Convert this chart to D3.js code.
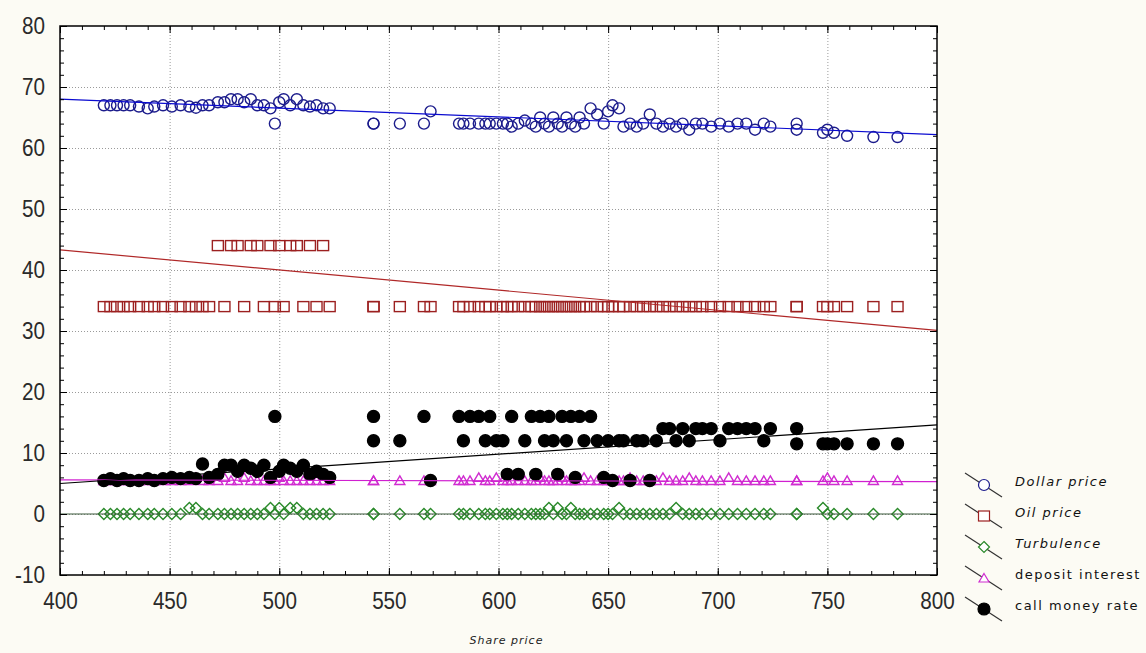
<!DOCTYPE html>
<html>
<head>
<meta charset="utf-8">
<script src="https://cdn.jsdelivr.net/npm/d3@7"></script>
<style>
  html, body { margin: 0; padding: 0; background: #fcfbf4; }
  svg { display: block; }
</style>
</head>
<body>
<div id="chart"></div>
<script>
// Observations: share price on x, five variables on y
const sharePrice = [
  420, 423, 426, 429, 432, 436, 440, 443, 447, 451, 455, 459, 462, 465, 468,
  472, 475, 478, 481, 484, 487, 490, 493, 496, 498, 500, 502, 505, 508, 511, 514, 517, 520, 523,
  543, 543, 555, 566, 569,
  582, 584, 587, 591, 594, 596, 599, 602, 604, 606, 609,
  612, 615, 617, 619, 621, 623, 625, 627, 629, 631, 633, 635, 637, 639, 642, 645,
  648, 650, 652, 655, 657, 660, 663, 666, 669, 672, 675, 678, 681, 684, 687, 690,
  693, 697, 701, 705, 709, 713, 717, 721, 724,
  736, 736, 748, 750, 753, 759, 771, 782,
];
const dollarPrice = [
  67, 67, 67, 67, 67, 66.8, 66.5, 66.8, 67, 66.8, 67, 66.8, 66.6, 67, 67,
  67.5, 67.5, 68, 68, 67.5, 68, 67, 67, 66.5, 64, 67.5, 68, 67, 68, 67, 66.8, 67, 66.5, 66.5,
  64, 64, 64, 64, 66,
  64, 64, 64, 64, 64, 64, 64, 64, 64, 63.5, 64,
  64.5, 64, 63.5, 65, 64, 63.5, 65, 64, 63.5, 65, 64, 63.5, 65, 64, 66.5, 65.5,
  64, 66, 67, 66.5, 63.5, 64, 63.5, 64, 65.5, 64, 63.5, 64, 63.5, 64, 63, 64,
  64, 63.5, 64, 63.5, 64, 64, 63, 64, 63.5,
  64, 63, 62.5, 63, 62.5, 62, 61.8, 61.8,
];
const oilPrice = [
  34, 34, 34, 34, 34, 34, 34, 34, 34, 34, 34, 34, 34, 34, 34,
  44, 34, 44, 44, 34, 44, 44, 34, 44, 34, 44, 34, 44, 44, 34, 44, 34, 44, 34,
  34, 34, 34, 34, 34,
  34, 34, 34, 34, 34, 34, 34, 34, 34, 34, 34,
  34, 34, 34, 34, 34, 34, 34, 34, 34, 34, 34, 34, 34, 34, 34, 34,
  34, 34, 34, 34, 34, 34, 34, 34, 34, 34, 34, 34, 34, 34, 34, 34,
  34, 34, 34, 34, 34, 34, 34, 34, 34,
  34, 34, 34, 34, 34, 34, 34, 34,
];
const turbulence = [
  0, 0, 0, 0, 0, 0, 0, 0, 0, 0, 0, 1, 1, 0, 0,
  0, 0, 0, 0, 0, 0, 0, 0, 1, 0, 1, 0, 1, 1, 0, 0, 0, 0, 0,
  0, 0, 0, 0, 0,
  0, 0, 0, 0, 0, 0, 0, 0, 0, 0, 0,
  0, 0, 0, 0, 0, 1, 0, 1, 0, 0, 1, 0, 0, 0, 0, 0,
  0, 0, 0, 1, 0, 0, 0, 0, 0, 0, 0, 0, 1, 0, 0, 0,
  0, 0, 0, 0, 0, 0, 0, 0, 0,
  0, 0, 1, 0, 0, 0, 0, 0,
];
const depositInterest = [
  5.5, 5.5, 5.5, 5.5, 5.5, 5.5, 5.5, 5.5, 5.5, 5.5, 5.5, 5.5, 6, 5.5, 5.5,
  5.5, 6, 5.5, 5.5, 6, 5.5, 5.5, 5.5, 5.5, 5.5, 6, 5.5, 5.5, 5.5, 5.5, 5.5, 5.5, 5.5, 5.5,
  5.5, 5.5, 5.5, 5.5, 5.5,
  5.5, 5.5, 5.5, 6, 5.5, 5.5, 6, 5.5, 5.5, 5.5, 5.5,
  5.5, 5.5, 5.5, 6, 5.5, 5.5, 5.5, 5.5, 6, 5.5, 5.5, 5.5, 5.5, 6, 5.5, 5.5,
  5.5, 5.5, 5.5, 5.5, 5.5, 6, 5.5, 5.5, 5.5, 5.5, 6, 5.5, 5.5, 5.5, 6, 5.5,
  5.5, 5.5, 5.5, 6, 5.5, 5.5, 5.5, 5.5, 5.5,
  5.5, 5.5, 5.5, 6, 5.5, 5.5, 5.5, 5.5,
];
const callMoneyRate = [
  5.5, 5.8, 5.5, 5.8, 5.5, 5.5, 5.8, 5.5, 5.8, 6, 5.8, 6, 5.8, 8.2, 6,
  6.5, 8, 8, 7, 8, 7.5, 7, 8, 6, 16, 7, 8, 7.5, 7, 8, 6.5, 7, 6.5, 6,
  16, 12, 12, 16, 5.5,
  16, 12, 16, 16, 12, 16, 12, 12, 6.5, 16, 6.5,
  12, 16, 6.5, 16, 12, 16, 12, 6.5, 16, 12, 16, 6, 16, 12, 16, 12,
  6, 12, 5.5, 12, 12, 5.5, 12, 12, 5.5, 12, 14, 14, 12, 14, 12, 14,
  14, 14, 12, 14, 14, 14, 14, 12, 14,
  14, 11.5, 11.5, 11.5, 11.5, 11.5, 11.5, 11.5,
];

// Fitted lines, value at share price 400 and 800
const fitShare = [400, 800];
const dollarFit = [68.0, 62.2];
const oilFit = [43.3, 30.1];
const turbulenceFit = [0, 0];
const depositFit = [5.6, 5.3];
const callFit = [5.0, 14.6];

const legendLabels = ["Dollar price", "Oil price", "Turbulence", "deposit interest", "call money rate"];
const xTicks = [400, 450, 500, 550, 600, 650, 700, 750, 800];
const yTicks = [-10, 0, 10, 20, 30, 40, 50, 60, 70, 80];

const width = 1146;
const height = 653;

const svg = d3
  .select("#chart")
  .append("svg")
  .attr("width", width)
  .attr("height", height);

const x = d3.scaleLinear().domain([400, 800]).range([60, 937]);
const y = d3.scaleLinear().domain([-10, 80]).range([575, 26]);

// plot area
svg
  .append("rect")
  .attr("x", x(400))
  .attr("y", y(80))
  .attr("width", x(800) - x(400))
  .attr("height", y(-10) - y(80))
  .attr("fill", "#ffffff");

// dotted grid
svg
  .append("g")
  .selectAll("line")
  .data(xTicks.slice(1, -1))
  .enter()
  .append("line")
  .attr("x1", (d) => x(d) + 0.5)
  .attr("x2", (d) => x(d) + 0.5)
  .attr("y1", y(80))
  .attr("y2", y(-10))
  .attr("stroke", "#9a9a9a")
  .attr("stroke-dasharray", "1,2");

svg
  .append("g")
  .selectAll("line")
  .data(yTicks.slice(1, -1))
  .enter()
  .append("line")
  .attr("x1", x(400))
  .attr("x2", x(800))
  .attr("y1", (d) => y(d) + 0.5)
  .attr("y2", (d) => y(d) + 0.5)
  .attr("stroke", "#9a9a9a")
  .attr("stroke-dasharray", "1,2");

// marker shapes
const symbols = {
  circle: (g) => g.append("circle").attr("r", 5.5),
  square: (g) => g.append("rect").attr("x", -5.5).attr("y", -5).attr("width", 11).attr("height", 10),
  diamond: (g) => g.append("path").attr("d", "M0,-5.5L5.5,0L0,5.5L-5.5,0Z"),
  triangle: (g) => g.append("path").attr("d", "M0,-4.5L5,4L-5,4Z"),
  dot: (g) => g.append("circle").attr("r", 6),
};

const series = [
  { values: dollarPrice, fit: dollarFit, shape: "circle", stroke: "#1c1c8c", fill: "none", line: "#0a0ad0" },
  { values: oilPrice, fit: oilFit, shape: "square", stroke: "#9c2020", fill: "none", line: "#b02828" },
  { values: turbulence, fit: turbulenceFit, shape: "diamond", stroke: "#2a8a2a", fill: "none", line: "#3c5a3c" },
  { values: depositInterest, fit: depositFit, shape: "triangle", stroke: "#d02cd0", fill: "none", line: "#d020d0" },
  { values: callMoneyRate, fit: callFit, shape: "dot", stroke: "#000000", fill: "#000000", line: "#000000" },
];

svg
  .append("defs")
  .append("clipPath")
  .attr("id", "plot-clip")
  .append("rect")
  .attr("x", x(400))
  .attr("y", y(80))
  .attr("width", x(800) - x(400))
  .attr("height", y(-10) - y(80));

const plot = svg.append("g").attr("clip-path", "url(#plot-clip)");

series.forEach((s) => {
  const pts = plot
    .append("g")
    .selectAll("g")
    .data(sharePrice.map((sp, i) => [sp, s.values[i]]))
    .enter()
    .append("g")
    .attr("transform", (d) => `translate(${x(d[0])},${y(d[1])})`);
  symbols[s.shape](pts)
    .attr("fill", s.fill)
    .attr("stroke", s.stroke)
    .attr("stroke-width", 1.4);
});

// fitted lines
const fitLine = d3
  .line()
  .x((d) => x(d[0]))
  .y((d) => y(d[1]));

series.forEach((s) => {
  plot
    .append("path")
    .attr("d", fitLine(fitShare.map((sp, i) => [sp, s.fit[i]])))
    .attr("fill", "none")
    .attr("stroke", s.line)
    .attr("stroke-width", 1.2);
});

// axes with inward ticks; labels squeezed to look like a narrow font
const numFont = "'Liberation Sans', Arial, sans-serif";

function styleAxis(g) {
  g.select(".domain").remove();
  g.selectAll(".tick line").attr("stroke", "#000");
  g.selectAll("text")
    .attr("font-family", numFont)
    .attr("font-size", "24px")
    .attr("fill", "#2a2a2a")
    .each(function () {
      const t = d3.select(this).text();
      if (!t) return;
      const w = t.replace("-", "").length * 11.5 + (t.includes("-") ? 7 : 0);
      d3.select(this).attr("textLength", w).attr("lengthAdjust", "spacingAndGlyphs");
    });
}

const plainFormat = (d) => String(d);

svg
  .append("g")
  .attr("transform", `translate(${x(400)},0)`)
  .call(d3.axisLeft(y).tickValues(d3.range(-10, 81, 2)).tickSize(-4).tickFormat(""))
  .call(styleAxis);
svg
  .append("g")
  .attr("transform", `translate(${x(400)},0)`)
  .call(d3.axisLeft(y).tickValues(yTicks).tickSize(-7).tickPadding(15).tickFormat(plainFormat))
  .call(styleAxis);

svg
  .append("g")
  .attr("transform", `translate(${x(800)},0)`)
  .call(d3.axisRight(y).tickValues(d3.range(-10, 81, 2)).tickSize(-4).tickFormat(""))
  .call(styleAxis);
svg
  .append("g")
  .attr("transform", `translate(${x(800)},0)`)
  .call(d3.axisRight(y).tickValues(yTicks).tickSize(-7).tickFormat(""))
  .call(styleAxis);

svg
  .append("g")
  .attr("transform", `translate(0,${y(80)})`)
  .call(d3.axisTop(x).tickValues(d3.range(400, 801, 10)).tickSize(-4).tickFormat(""))
  .call(styleAxis);
svg
  .append("g")
  .attr("transform", `translate(0,${y(80)})`)
  .call(d3.axisTop(x).tickValues(xTicks).tickSize(-7).tickFormat(""))
  .call(styleAxis);

svg
  .append("g")
  .attr("transform", `translate(0,${y(-10)})`)
  .call(d3.axisBottom(x).tickValues(d3.range(400, 801, 10)).tickSize(-4).tickFormat(""))
  .call(styleAxis);
svg
  .append("g")
  .attr("transform", `translate(0,${y(-10)})`)
  .call(d3.axisBottom(x).tickValues(xTicks).tickSize(-7).tickPadding(17).tickFormat(plainFormat))
  .call(styleAxis);

// frame
svg
  .append("rect")
  .attr("x", x(400))
  .attr("y", y(80))
  .attr("width", x(800) - x(400))
  .attr("height", y(-10) - y(80))
  .attr("fill", "none")
  .attr("stroke", "#000")
  .attr("stroke-width", 1.5);

// x axis title
svg
  .append("text")
  .attr("x", (x(400) + x(800)) / 2 + 8)
  .attr("y", 640)
  .attr("dy", "0.35em")
  .attr("text-anchor", "middle")
  .attr("font-family", "'DejaVu Sans', sans-serif")
  .attr("font-size", "11px")
  .attr("font-style", "italic")
  .attr("letter-spacing", "1px")
  .attr("fill", "#222")
  .text("Share price");

// legend
const legend = svg.append("g").attr("class", "legend");
series.forEach((s, i) => {
  const ly = 481 + i * 31;
  legend
    .append("line")
    .attr("x1", 965)
    .attr("y1", ly - 8)
    .attr("x2", 1002)
    .attr("y2", ly + 16)
    .attr("stroke", "#333")
    .attr("stroke-width", 1.2);
  const m = legend.append("g").attr("transform", `translate(984,${ly + 4})`);
  symbols[s.shape](m)
    .attr("fill", s.fill === "none" ? "#ffffff" : s.fill)
    .attr("stroke", s.stroke)
    .attr("stroke-width", 1.2);
  legend
    .append("text")
    .attr("x", 1015)
    .attr("y", ly)
    .attr("dy", "0.35em")
    .attr("font-family", "'DejaVu Sans', sans-serif")
    .attr("font-size", "13px")
    .attr("letter-spacing", "1.5px")
    .attr("font-style", i < 3 ? "italic" : "normal")
    .attr("fill", "#111")
    .text(legendLabels[i]);
});
</script>
</body>
</html>
